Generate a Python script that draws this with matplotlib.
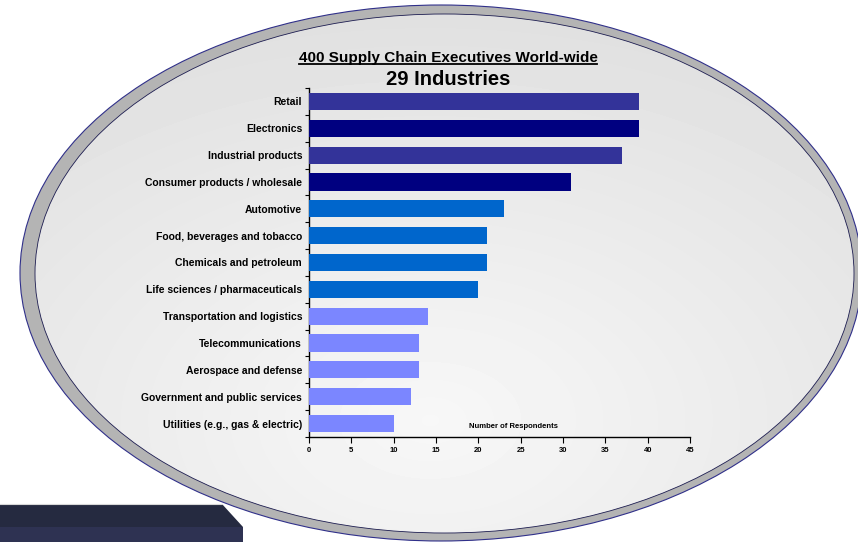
import numpy as np
import matplotlib
matplotlib.use("Agg")
import matplotlib.pyplot as plt
from matplotlib.patches import Ellipse, Polygon, Rectangle
from matplotlib.lines import Line2D

plt.rcParams['font.family'] = ['Liberation Sans', 'DejaVu Sans']

industries = ["Retail", "Electronics", "Industrial products",
              "Consumer products / wholesale", "Automotive",
              "Food, beverages and tobacco", "Chemicals and petroleum",
              "Life sciences / pharmaceuticals", "Transportation and logistics",
              "Telecommunications", "Aerospace and defense",
              "Government and public services", "Utilities (e.g., gas & electric)"]
respondents = [39, 39, 37, 31, 23, 21, 21, 20, 14, 13, 13, 12, 10]
bar_colors = ["#333399", "#000080", "#333399", "#000080",
              "#0066cc", "#0066cc", "#0066cc", "#0066cc",
              "#7b86ff", "#7b86ff", "#7b86ff", "#7b86ff", "#7b86ff"]
x_ticks = [0, 5, 10, 15, 20, 25, 30, 35, 40, 45]

W, H = 858, 542
fig = plt.figure(figsize=(W / 100, H / 100), dpi=100)
fig.patch.set_facecolor("white")

# background layer in pixel coords (y down)
bg = fig.add_axes([0, 0, 1, 1], zorder=0)
bg.set_xlim(0, W)
bg.set_ylim(H, 0)
bg.axis("off")

# dark box at bottom left
box_top = Polygon([[0, 504], [222, 504], [243, 527], [0, 527]], closed=True,
                  facecolor="#252a40", edgecolor="none", zorder=1)
box_bot = Rectangle((0, 527), 243, 20, facecolor="#2e3252", edgecolor="none", zorder=1)
bg.add_patch(box_top)
bg.add_patch(box_bot)
bg.plot([0, 222], [503.5, 503.5], color="#d8d8d8", lw=0.8, zorder=1)

# outer grey ring
outer = Ellipse((441, 273), 842, 536, facecolor="#b4b4b4",
                edgecolor="#30308a", lw=0.8, zorder=2)
bg.add_patch(outer)

# inner ellipse with radial gradient
inner = Ellipse((444.5, 273.5), 819, 519, facecolor="none",
                edgecolor="#1c1c50", lw=0.6, zorder=4)
bg.add_patch(inner)
yy, xx = np.mgrid[0:H, 0:W]
d = np.sqrt(((xx - 430) / 700.0) ** 2 + ((yy - 420) / 450.0) ** 2)
shade = np.clip(0.97 - 0.1 * d, 0.86, 0.97)
img = bg.imshow(shade, cmap="gray", vmin=0, vmax=1, extent=[0, W, H, 0],
                zorder=3, interpolation="bilinear")
clip = Ellipse((444.5, 273.5), 819, 519, transform=bg.transData)
img.set_clip_path(clip)
bg.set_xlim(0, W)
bg.set_ylim(H, 0)

# bar chart
ax = fig.add_axes([309 / W, 1 - 437 / H, (690 - 309) / W, (437 - 88) / H], zorder=5)
ax.patch.set_visible(False)
pos = np.arange(len(industries))
ax.barh(pos, respondents, height=0.64, color=bar_colors, zorder=3)
ax.set_ylim(len(industries) - 0.5, -0.5)
ax.set_xlim(0, 45)
ax.set_yticks(pos)
ax.set_yticklabels(industries, fontsize=7.5, fontweight="bold")
ax.set_yticks(np.arange(len(industries) + 1) - 0.5, minor=True)
ax.tick_params(axis="y", which="major", length=0, pad=5)
ax.tick_params(axis="y", which="minor", length=3, width=0.8, direction="out")
ax.set_xticks(x_ticks)
ax.set_xticklabels([str(t) for t in x_ticks], fontsize=5.5, fontweight="bold")
ax.tick_params(axis="x", length=4, width=0.8, direction="out", pad=3)
for s in ["top", "right"]:
    ax.spines[s].set_visible(False)
for s in ["left", "bottom"]:
    ax.spines[s].set_linewidth(1.0)
ax.text(24.2, 12.1, "Number of Respondents", fontsize=5.5, fontweight="bold",
        ha="center", va="center")

# titles
t1 = fig.text(448 / W, 1 - 62 / H, "400 Supply Chain Executives World-wide",
              fontsize=11, fontweight="bold", ha="center", va="baseline", zorder=6)
fig.text(448 / W, 1 - 85 / H, "29 Industries", fontsize=14.5, fontweight="bold",
         ha="center", va="baseline", zorder=6)
fig.canvas.draw()
bb = t1.get_window_extent()
uy = (bb.y0 + 1.5) / H
fig.add_artist(Line2D([bb.x0 / W, bb.x1 / W], [uy, uy], color="black", lw=1.3,
                      transform=fig.transFigure, zorder=6))

fig.savefig("out.png", dpi=100)
